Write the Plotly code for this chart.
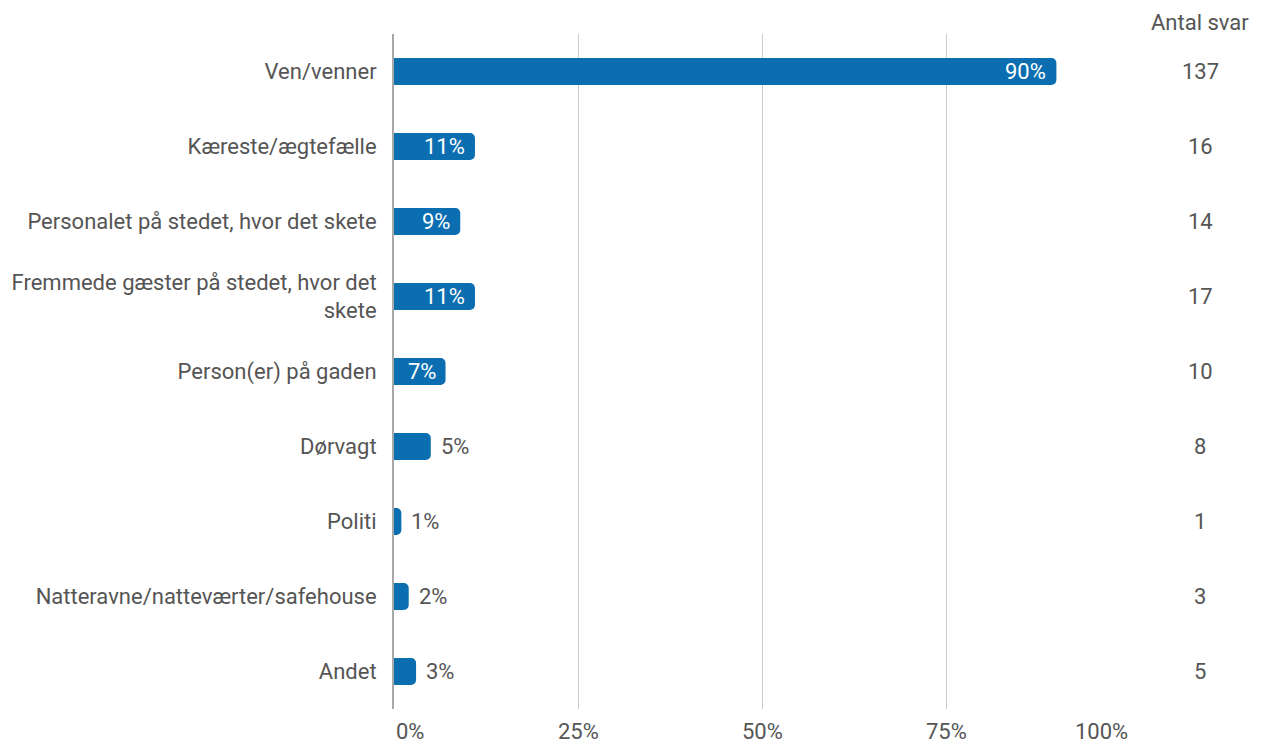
import plotly.graph_objects as go

# Survey: who helped / was told (Danish labels)
categories = [
    "Ven/venner",
    "Kæreste/ægtefælle",
    "Personalet på stedet, hvor det skete",
    "Fremmede gæster på stedet, hvor det<br>skete",
    "Person(er) på gaden",
    "Dørvagt",
    "Politi",
    "Natteravne/natteværter/safehouse",
    "Andet",
]
percent = [90, 11, 9, 11, 7, 5, 1, 2, 3]
counts = [137, 16, 14, 17, 10, 8, 1, 3, 5]
x_ticks = [0, 25, 50, 75, 100]
x_tick_labels = ["0%", "25%", "50%", "75%", "100%"]

BAR = "#0b6eb0"
TEXT = "#555555"
FONT = "Roboto"
FS = 22

W, H = 1267, 745
L, R, T, B = 394, 137, 34, 36

fig = go.Figure(
    go.Bar(
        x=percent,
        y=categories,
        orientation="h",
        marker=dict(color=BAR, line=dict(width=0)),
        width=0.36,
        hoverinfo="skip",
    )
)

annotations = []
# value labels: white inside long bars, gray outside short ones
for cat, p in zip(categories, percent):
    inside = p >= 7
    annotations.append(dict(
        x=p, y=cat, xref="x", yref="y",
        text=f"{p}%",
        showarrow=False,
        xanchor="right" if inside else "left",
        xshift=-8 if inside else 8,
        font=dict(family=FONT, size=FS, color="white" if inside else TEXT),
    ))

# count column to the right of the plot
col_x = 1 + (1200 - (W - R)) / (W - L - R)
annotations.append(dict(
    x=col_x, y=1, xref="paper", yref="paper", yanchor="bottom", yshift=-3,
    text="Antal svar", showarrow=False, xanchor="center",
    font=dict(family=FONT, size=FS, color=TEXT),
))
for cat, n in zip(categories, counts):
    annotations.append(dict(
        x=col_x, y=cat, xref="paper", yref="y",
        text=str(n), showarrow=False, xanchor="center",
        font=dict(family=FONT, size=FS, color=TEXT),
    ))

# x tick labels: first left-aligned, last right-aligned, others centred
for i, (v, lab) in enumerate(zip(x_ticks, x_tick_labels)):
    anchor = "left" if i == 0 else ("right" if i == len(x_ticks) - 1 else "center")
    annotations.append(dict(
        x=v, y=0, xref="x", yref="paper", yanchor="top", yshift=-8,
        text=lab, showarrow=False, xanchor=anchor,
        font=dict(family=FONT, size=FS, color=TEXT),
    ))

fig.update_layout(
    width=W, height=H,
    margin=dict(l=L, r=R, t=T, b=B, pad=0),
    paper_bgcolor="white", plot_bgcolor="white",
    showlegend=False,
    barcornerradius=5,
    font=dict(family=FONT, size=FS, color=TEXT),
    annotations=annotations,
    xaxis=dict(
        range=[0, 100], tickvals=x_ticks, showticklabels=False,
        showgrid=True, gridcolor="#cccccc", gridwidth=1,
        zeroline=False, showline=False, fixedrange=True,
    ),
    yaxis=dict(
        autorange="reversed", showgrid=False, zeroline=False,
        ticks="", ticklabelstandoff=11, showline=True,
        linecolor="#a8a8a8", linewidth=2,
        tickfont=dict(family=FONT, size=FS, color=TEXT),
    ),
)

fig.write_html("out.html")
